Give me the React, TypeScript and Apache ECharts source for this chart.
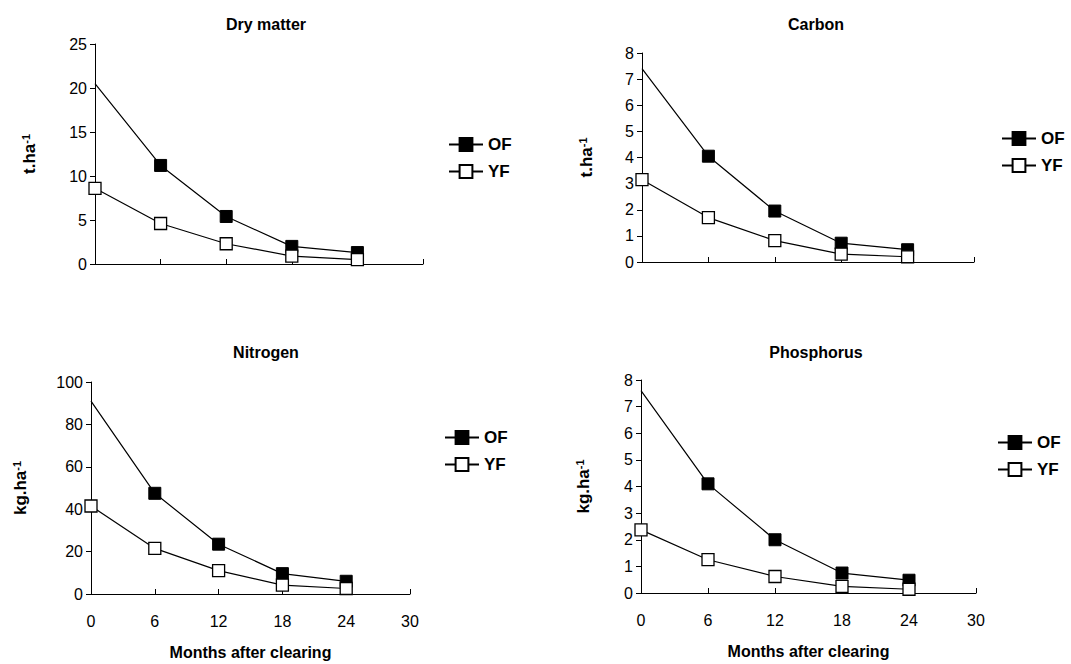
import React, { useEffect, useRef } from 'react';
import * as echarts from 'echarts';

const months = [0, 6, 12, 18, 24];
const seriesNames = ['OF', 'YF'];
const panelTitles = ['Dry matter', 'Carbon', 'Nitrogen', 'Phosphorus'];
const unitLabels = ['t.ha', 't.ha', 'kg.ha', 'kg.ha'];
const xAxisTitle = 'Months after clearing';

const dryOF = [20.5, 11.2, 5.4, 2.0, 1.3];
const dryYF = [8.6, 4.6, 2.3, 0.9, 0.5];
const carbonOF = [7.4, 4.05, 1.95, 0.72, 0.47];
const carbonYF = [3.15, 1.7, 0.82, 0.3, 0.2];
const nitroOF = [91, 47.5, 23.5, 9.6, 6];
const nitroYF = [41.5, 21.5, 11, 4.2, 2.6];
const phosOF = [7.6, 4.1, 2.0, 0.75, 0.48];
const phosYF = [2.37, 1.25, 0.62, 0.25, 0.14];

const yMax = [25, 8, 100, 8];
const yInterval = [5, 1, 20, 1];

const FONT = '"Liberation Sans", Arial, sans-serif';

const layout = [
  { left: 95, top: 44, width: 328, height: 220, titleX: 261, titleY: 11, nameGap: 57, legendLeft: 448, legendTop: 136 },
  { left: 642, top: 53, width: 332, height: 209, titleX: 811, titleY: 11, nameGap: 47, legendLeft: 1001, legendTop: 130 },
  { left: 91, top: 382, width: 319, height: 212, titleX: 261, titleY: 339, nameGap: 62, legendLeft: 444, legendTop: 429 },
  { left: 641, top: 380, width: 335, height: 213, titleX: 811, titleY: 339, nameGap: 49, legendLeft: 997, legendTop: 434 },
];

const data = [
  [dryOF, dryYF],
  [carbonOF, carbonYF],
  [nitroOF, nitroYF],
  [phosOF, phosYF],
];

export default function App() {
  const ref = useRef<HTMLDivElement>(null);
  useEffect(() => {
    if (!ref.current) return;
    const chart = echarts.init(ref.current, null, { renderer: 'svg' });
    const grid: any[] = [];
    const xAxis: any[] = [];
    const yAxis: any[] = [];
    const series: any[] = [];
    const title: any[] = [];
    const legend: any[] = [];
    layout.forEach((p, i) => {
      const bottomRow = i >= 2;
      grid.push({ left: p.left, top: p.top, width: p.width, height: p.height });
      title.push({
        text: panelTitles[i],
        left: p.titleX,
        top: p.titleY,
        textAlign: 'center',
        textStyle: { fontFamily: FONT, fontSize: 16, fontWeight: 'bold', color: '#000' },
      });
      xAxis.push({
        type: 'value',
        gridIndex: i,
        min: 0,
        max: 30,
        interval: 6,
        name: bottomRow ? xAxisTitle : '',
        nameLocation: 'middle',
        nameGap: 50,
        nameTextStyle: { fontFamily: FONT, fontSize: 16, fontWeight: 'bold', color: '#000' },
        axisLine: { show: true, lineStyle: { color: '#000', width: 1 } },
        axisTick: { show: true, inside: true, length: 5, lineStyle: { color: '#000' } },
        axisLabel: { show: bottomRow, margin: 19, fontFamily: FONT, fontSize: 16, color: '#000' },
        splitLine: { show: false },
      });
      yAxis.push({
        type: 'value',
        gridIndex: i,
        min: 0,
        max: yMax[i],
        interval: yInterval[i],
        name: `{a|${unitLabels[i]}}{s|-1}`,
        nameLocation: 'middle',
        nameRotate: 90,
        nameGap: p.nameGap,
        nameTextStyle: {
          rich: {
            a: { fontFamily: FONT, fontSize: 17, fontWeight: 'bold', color: '#000', lineHeight: 18 },
            s: { fontFamily: FONT, fontSize: 11, fontWeight: 'bold', color: '#000', verticalAlign: 'top', lineHeight: 11 },
          },
        },
        axisLine: { show: true, lineStyle: { color: '#000', width: 1 } },
        axisTick: { show: true, inside: false, length: 5, lineStyle: { color: '#000' } },
        axisLabel: { margin: 8, fontFamily: FONT, fontSize: 16, color: '#000' },
        splitLine: { show: false },
      });
      data[i].forEach((vals, k) => {
        series.push({
          name: seriesNames[k],
          type: 'line',
          xAxisIndex: i,
          yAxisIndex: i,
          symbol: 'rect',
          symbolSize: 12,
          lineStyle: { color: '#000', width: 1.2 },
          itemStyle: k === 0
            ? { color: '#000', borderColor: '#000', borderWidth: 1 }
            : { color: '#fff', borderColor: '#000', borderWidth: 1.3 },
          data: vals.map((v, j) =>
            k === 0 && j === 0 ? { value: [months[j], v], symbol: 'none' } : { value: [months[j], v] }
          ),
        });
      });
      legend.push({
        data: seriesNames,
        orient: 'vertical',
        left: p.legendLeft,
        top: p.legendTop,
        padding: 0,
        itemWidth: 34,
        itemHeight: 16,
        itemGap: 10,
        selectedMode: false,
        textStyle: { fontFamily: FONT, fontSize: 17, fontWeight: 'bold', color: '#000', lineHeight: 16 },
      });
    });
    chart.setOption({
      animation: false,
      backgroundColor: '#fff',
      title,
      legend,
      grid,
      xAxis,
      yAxis,
      series,
    });
    return () => chart.dispose();
  }, []);
  return (
    <div
      ref={ref}
      style={{ position: 'fixed', left: 0, top: 0, width: 1071, height: 664, background: '#fff' }}
    />
  );
}
